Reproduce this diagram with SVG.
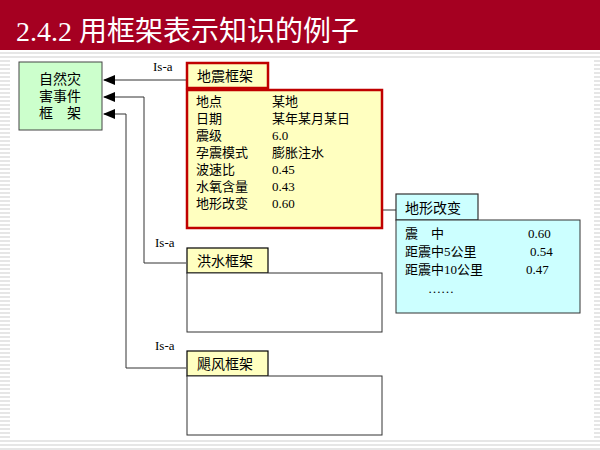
<svg xmlns="http://www.w3.org/2000/svg" width="600" height="450" viewBox="0 0 600 450">
<defs>
<style>
text{font-family:"Liberation Serif","Noto Sans CJK SC",serif;font-size:13px;fill:#000}
.tab{fill:#FFFFC0;stroke:#000;stroke-width:1.2}
.red{stroke:#C00000;stroke-width:2.5}
.ln{fill:none;stroke:#333;stroke-width:1}
</style>
<marker id="ah" markerWidth="12" markerHeight="10" refX="11" refY="5" orient="auto" markerUnits="userSpaceOnUse"><path d="M0,0 L12,5 L0,10 z" fill="#000"/></marker>
<pattern id="st" width="6" height="4" patternUnits="userSpaceOnUse"><rect width="6" height="2" fill="#e6e6e6"/></pattern>
</defs>
<rect width="600" height="450" fill="#fff"/>
<rect x="0" y="50" width="600" height="8" fill="url(#st)"/>
<rect x="0" y="50" width="10" height="400" fill="url(#st)"/>
<rect x="594" y="50" width="6" height="400" fill="url(#st)"/>
<rect x="0" y="438" width="600" height="12" fill="url(#st)"/>
<rect x="0" y="0" width="600" height="50" fill="#A50021"/>
<text x="16" y="41" style="font-size:28px;fill:#fff">2.4.2  用框架表示知识的例子</text>
<g id="connectors">
<path class="ln" d="M186,80 H104" marker-end="url(#ah)"/>
<path class="ln" d="M186,263 H144 V97 H104" marker-end="url(#ah)"/>
<path class="ln" d="M186,368 H126 V114 H104" marker-end="url(#ah)"/>
<path class="ln" d="M396,210 H326" marker-end="url(#ah)"/>
<text x="153" y="71">Is-a</text>
<text x="155" y="247">Is-a</text>
<text x="155" y="350">Is-a</text>
</g>
<g id="natural">
<rect x="19" y="62" width="83" height="68" fill="#CCFFCC" stroke="#444"/>
<text x="60" y="84" text-anchor="middle" style="font-size:14px">自然灾</text>
<text x="60" y="101" text-anchor="middle" style="font-size:14px">害事件</text>
<text x="60" y="118" text-anchor="middle" style="font-size:14px">框　架</text>
</g>
<g id="quake">
<rect x="187" y="63" width="81" height="25" class="tab red"/>
<rect x="187" y="90" width="195" height="138" fill="#FFFFC0" class="red"/>
<text x="197" y="81" style="font-size:14px">地震框架</text>
<text x="196" y="106">地点</text><text x="272" y="106">某地</text>
<text x="196" y="123">日期</text><text x="272" y="123">某年某月某日</text>
<text x="196" y="140">震级</text><text x="272" y="140">6.0</text>
<text x="196" y="157">孕震模式</text><text x="272" y="157">膨胀注水</text>
<text x="196" y="174">波速比</text><text x="272" y="174">0.45</text>
<text x="196" y="191">水氧含量</text><text x="272" y="191">0.43</text>
<text x="196" y="208">地形改变</text><text x="272" y="208">0.60</text>
</g>
<g id="flood">
<rect x="187" y="248" width="81" height="25" class="tab"/>
<rect x="187" y="273" width="195" height="59" fill="#fff" stroke="#333"/>
<text x="197" y="266" style="font-size:14px">洪水框架</text>
</g>
<g id="typhoon">
<rect x="187" y="351" width="81" height="25" class="tab"/>
<rect x="187" y="376" width="195" height="59" fill="#fff" stroke="#333"/>
<text x="197" y="369" style="font-size:14px">飓风框架</text>
</g>
<g id="terrain">
<rect x="396" y="194" width="82" height="26" fill="#CCFFFF" stroke="#333" stroke-width="1.2"/>
<rect x="396" y="220" width="184" height="93" fill="#CCFFFF" stroke="#333"/>
<text x="405" y="213" style="font-size:14px">地形改变</text>
<text x="405" y="238">震　中</text><text x="528" y="238">0.60</text>
<text x="405" y="256">距震中5公里</text><text x="530" y="256">0.54</text>
<text x="405" y="274">距震中10公里</text><text x="526" y="274">0.47</text>
<text x="428" y="293">……</text>
</g>
</svg>
